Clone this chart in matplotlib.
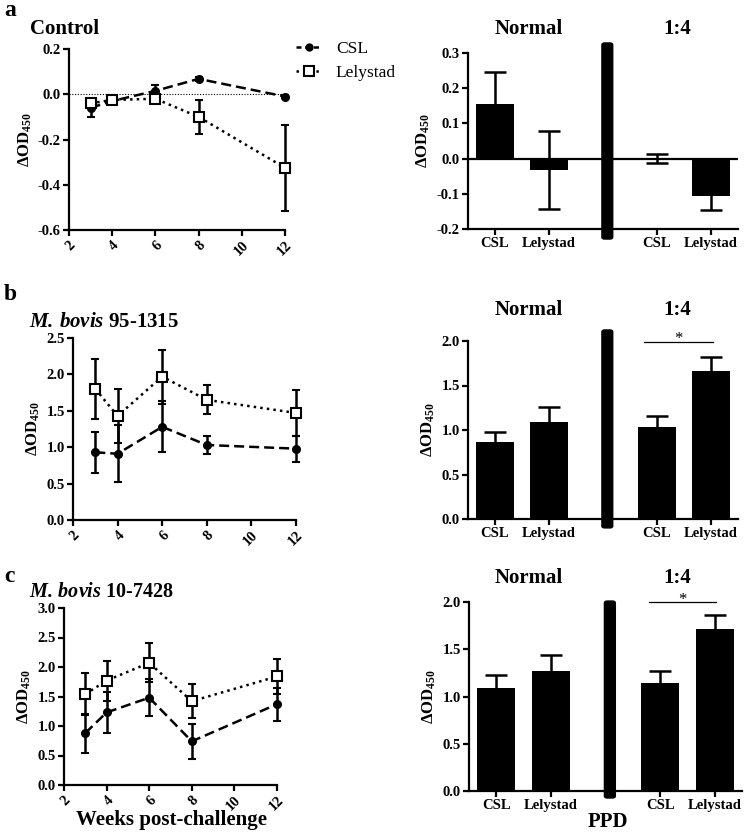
import numpy as np
import matplotlib
matplotlib.use('Agg')
import matplotlib.pyplot as plt
from matplotlib.lines import Line2D
from matplotlib.patches import FancyBboxPatch
import matplotlib.transforms as mtransforms

plt.rcParams['font.family'] = 'Liberation Serif'
plt.rcParams['font.weight'] = 'bold'
plt.rcParams['mathtext.fontset'] = 'custom'
plt.rcParams['mathtext.rm'] = 'Liberation Serif:bold'
plt.rcParams['mathtext.bf'] = 'Liberation Serif:bold'
plt.rcParams['mathtext.it'] = 'Liberation Serif:bold:italic'
plt.rcParams['mathtext.bfit'] = 'Liberation Serif:bold:italic'

# data
weeks = [3, 4, 6, 8, 12]
ctrl_csl = [-0.06, -0.03, 0.015, 0.068, -0.01]
ctrl_csl_err = [0.04, 0.01, 0.025, 0.01, 0.005]
ctrl_ley = [-0.04, -0.025, -0.02, -0.10, -0.325]
ctrl_ley_err = [0.02, 0.008, 0.01, 0.075, 0.19]
b_csl = [0.93, 0.91, 1.28, 1.03, 0.98]
b_csl_err = [0.28, 0.39, 0.35, 0.12, 0.18]
b_ley = [1.80, 1.43, 1.97, 1.65, 1.47]
b_ley_err = [0.41, 0.37, 0.37, 0.20, 0.32]
c_csl = [0.88, 1.23, 1.48, 0.74, 1.37]
c_csl_err = [0.33, 0.35, 0.31, 0.30, 0.28]
c_ley = [1.54, 1.77, 2.07, 1.42, 1.84]
c_ley_err = [0.35, 0.34, 0.33, 0.29, 0.30]

bar_labels = ['CSL', 'Lelystad', 'CSL', 'Lelystad']
a_bar = [0.155, -0.032, 0.0, -0.105]
a_bar_err = [0.09, 0.11, 0.013, 0.04]
b_bar = [0.86, 1.09, 1.03, 1.66]
b_bar_err = [0.12, 0.17, 0.13, 0.16]
c_bar = [1.09, 1.27, 1.14, 1.71]
c_bar_err = [0.14, 0.17, 0.13, 0.15]

W, H = 750, 834
fig = plt.figure(figsize=(W / 100, H / 100), dpi=100)

def box(l, r, t, b):
    return [l / W, 1 - b / H, (r - l) / W, (b - t) / H]

def ftext(x, y, s, **kw):
    fig.text(x / W, 1 - y / H, s, **kw)

def style(ax):
    for s in ['top', 'right']:
        ax.spines[s].set_visible(False)
    for s in ['left', 'bottom']:
        ax.spines[s].set_linewidth(1.6)
    ax.tick_params(width=1.6, length=4, labelsize=10.5, pad=2)
    for t in ax.get_xticklabels() + ax.get_yticklabels():
        t.set_fontweight('bold')
    ax.set_ylabel(r'ΔOD$_{450}$', fontsize=12, fontweight='bold', labelpad=3)

def line_panel(rect, csl, csl_err, ley, ley_err, ylim, yticks):
    ax = fig.add_axes(rect)
    for vals, errs, ls, mk, ms, mfc, z in [(csl, csl_err, (0, (4, 2)), 'o', 5, 'k', 3),
                                           (ley, ley_err, ':', 's', 6.5, 'white', 4)]:
        eb = ax.errorbar(weeks, vals, yerr=errs, color='k', lw=1.8, ls=ls, marker=mk, ms=ms,
                         mfc=mfc, mew=1.5, capsize=3, elinewidth=1.8, capthick=1.8, zorder=z)
        for art in eb.get_children():
            art.set_clip_on(False)
    ax.set_xlim(2, 12)
    ax.set_ylim(*ylim)
    ax.set_xticks(range(2, 13, 2))
    ax.set_yticks(yticks)
    ax.set_yticklabels(['%.1f' % v for v in yticks])
    style(ax)
    for t in ax.get_xticklabels():
        t.set_rotation(45)
        t.set_ha('right')
        t.set_va('top')
        t.set_rotation_mode('anchor')
    return ax

def bar_panel(rect, vals, errs, ylim, yticks, sep_top, sep_bot):
    ax = fig.add_axes(rect)
    pos = [0, 1, 3, 4]
    ax.errorbar(pos, vals, yerr=errs, fmt='none', ecolor='k', elinewidth=1.8,
                capsize=8, capthick=1.8, zorder=2)
    ax.bar(pos, vals, width=0.7, color='k', zorder=3)
    ax.set_xlim(-0.5, 4.5)
    ax.set_ylim(*ylim)
    ax.set_xticks(pos)
    ax.set_xticklabels(bar_labels)
    ax.set_yticks(yticks)
    ax.set_yticklabels(['%.1f' % v for v in yticks])
    style(ax)
    trans = mtransforms.blended_transform_factory(ax.transData, ax.transAxes)
    sep = FancyBboxPatch((1.98, sep_bot), 0.2, sep_top - sep_bot,
                         boxstyle='round,pad=0,rounding_size=0.05',
                         transform=trans, color='k', clip_on=False, zorder=5,
                         mutation_aspect=0.2)
    ax.add_patch(sep)
    return ax

def sig(ax, x0, x1, y):
    ax.plot([x0, x1], [y, y], color='k', lw=0.9, clip_on=False)
    ax.annotate('*', ((x0 + x1) / 2, y), xytext=(0, -4), textcoords='offset points',
                ha='center', va='bottom', fontsize=12, fontweight='normal')

# panel a
ax = line_panel(box(69, 285, 49, 230), ctrl_csl, ctrl_csl_err, ctrl_ley, ctrl_ley_err,
                (-0.6, 0.2), [-0.6, -0.4, -0.2, 0.0, 0.2])
ax.axhline(0, color='k', lw=0.8, ls=(0, (1, 1.5)), zorder=1)
handles = [Line2D([], [], color='k', lw=1.8, ls=(0, (2, 1.5)), marker='o', ms=5),
           Line2D([], [], color='k', lw=1.8, ls=':', marker='s', ms=6.5, mfc='white', mew=1.5)]
fig.legend(handles, ['CSL', 'Lelystad'], loc='upper left',
           bbox_to_anchor=(296 / W, 1 - 41 / H), bbox_transform=fig.transFigure,
           frameon=False, handlelength=1.5, handletextpad=0.8, borderpad=0,
           borderaxespad=0, labelspacing=0.45,
           prop={'family': 'Liberation Serif', 'size': 12.5, 'weight': 'normal'})

ax = bar_panel(box(468, 738, 53, 229), a_bar, a_bar_err, (-0.2, 0.3),
               [-0.2, -0.1, 0.0, 0.1, 0.2, 0.3], 1.057, -0.057)
ax.axhline(0, color='k', lw=1.6, zorder=2)

# panel b
line_panel(box(73, 296, 338, 520), b_csl, b_csl_err, b_ley, b_ley_err,
           (0, 2.5), [0.0, 0.5, 1.0, 1.5, 2.0, 2.5])
ax = bar_panel(box(468, 738, 341, 519), b_bar, b_bar_err, (0, 2.0),
               [0.0, 0.5, 1.0, 1.5, 2.0], 1.062, -0.05)
sig(ax, 2.76, 4.04, 1.99)

# panel c
ax = line_panel(box(64, 277, 608, 785), c_csl, c_csl_err, c_ley, c_ley_err,
                (0, 3.0), [0.0, 0.5, 1.0, 1.5, 2.0, 2.5, 3.0])
ax = bar_panel(box(469, 742, 602, 791), c_bar, c_bar_err, (0, 2.0),
               [0.0, 0.5, 1.0, 1.5, 2.0], 1.005, -0.037)
sig(ax, 2.8, 4.02, 2.0)

# titles and letters
ftext(4, 10, 'a', fontsize=17, fontweight='bold', va='center')
ftext(4, 295, 'b', fontsize=17, fontweight='bold', va='center')
ftext(4, 576, 'c', fontsize=17, fontweight='bold', va='center')
ftext(30, 29, 'Control', fontsize=15, fontweight='bold', va='center')
ftext(29, 322, r'$\mathbfit{M.\,bovis}$ 95-1315', fontsize=15, fontweight='bold', va='center')
ftext(29, 592, r'$\mathbfit{M.\,bovis}$ 10-7428', fontsize=14.5, fontweight='bold', va='center')
for y in [29, 310, 578]:
    ftext(529, y, 'Normal', fontsize=15, fontweight='bold', ha='center', va='center')
    ftext(677, y, '1:4', fontsize=15, fontweight='bold', ha='center', va='center')
ftext(172, 820, 'Weeks post-challenge', fontsize=15, fontweight='bold', ha='center', va='center')
ftext(608, 822, 'PPD', fontsize=15, fontweight='bold', ha='center', va='center')

fig.savefig('out.png', dpi=100)
